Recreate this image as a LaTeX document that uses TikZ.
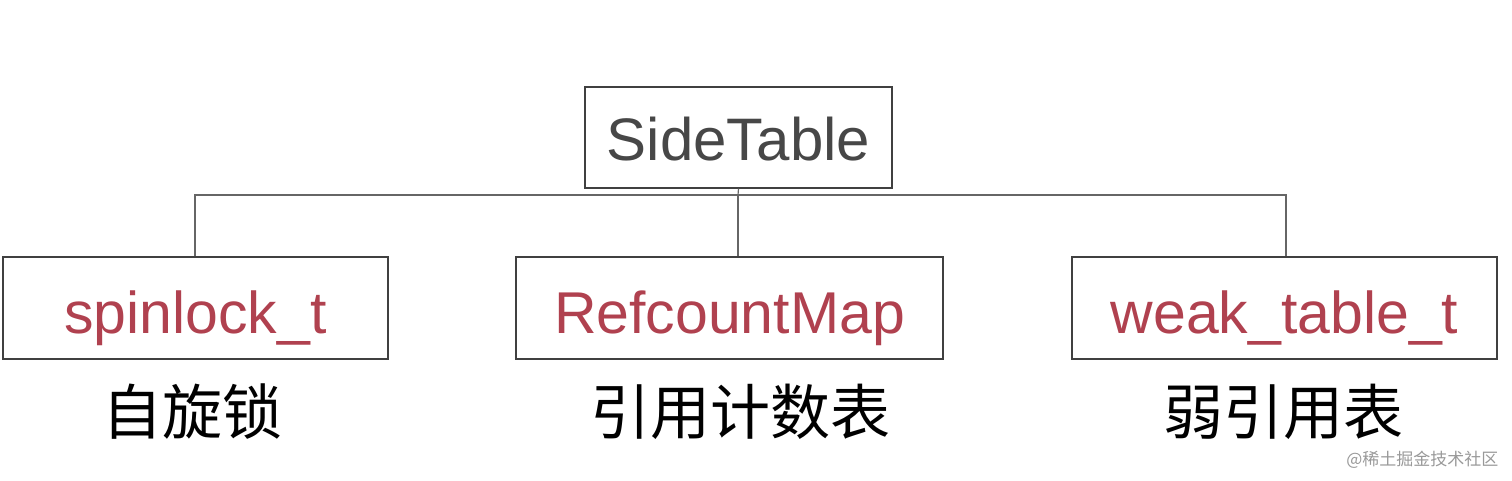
\documentclass[tikz,border=0pt]{standalone}
\usepackage{fontspec}
\setmainfont{Liberation Sans}
\newfontfamily\cjk{Noto Sans CJK SC}
\definecolor{redt}{HTML}{B0414F}
\definecolor{grayt}{HTML}{474747}
\begin{document}
\begin{tikzpicture}[x=1pt,y=-1pt,
 box/.style={draw=black!75,line width=1.3pt,inner sep=0pt},
 conn/.style={draw=black!60,line width=1.2pt},
 lbl/.style={font=\cjk\fontsize{60}{64}\selectfont,text=black}]
\useasboundingbox (0,0) rectangle (1512,481);
\node[box,minimum width=307,minimum height=101] (st) at (738.5,137.5) {};
\node[text=grayt,font=\fontsize{60}{64}\selectfont] at ([yshift=-2]st.center) {SideTable};
\node[box,minimum width=385,minimum height=102] (a) at (195.5,308) {};
\node[box,minimum width=427,minimum height=102] (b) at (729.5,308) {};
\node[box,minimum width=425,minimum height=102] (c) at (1284.5,308) {};
\node[text=redt,font=\fontsize{59}{62}\selectfont] at ([yshift=-10]a.center) {spinlock\_t};
\node[text=redt,font=\fontsize{59}{62}\selectfont] at ([yshift=-10]b.center) {RefcountMap};
\node[text=redt,font=\fontsize{59}{62}\selectfont] at ([yshift=-10]c.center) {weak\_table\_t};
\coordinate (j) at (738,195);
\draw[conn] (st.south) -- (j);
\draw[conn] (a.north -| 195,0) -- (195,195) -- (1286,195) -- (c.north -| 1286,0);
\draw[conn] (j) -- (b.north -| 738,0);
\node[lbl] (la) at (192,412) {自旋锁};
\node[lbl] (lb) at (740,412) {引用计数表};
\node[lbl] (lc) at (1283,412) {弱引用表};
\node[font=\cjk\fontsize{17}{20}\selectfont,text=black!40,anchor=east] (wm) at (1502,460) {@稀土掘金技术社区};
\end{tikzpicture}
\end{document}
